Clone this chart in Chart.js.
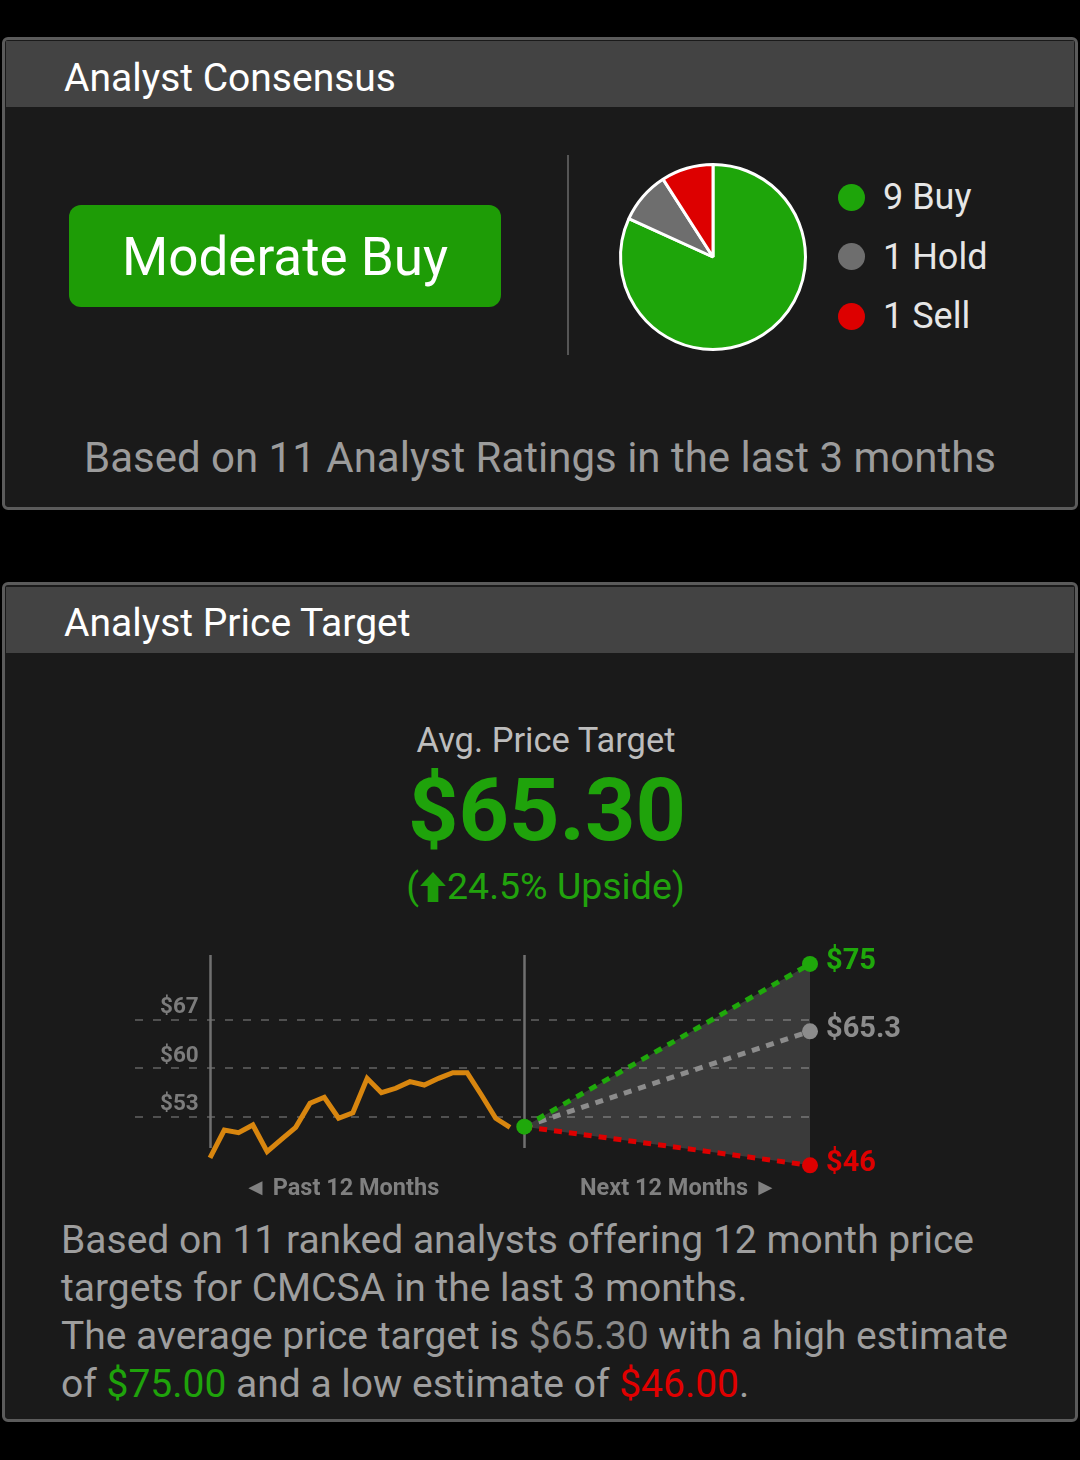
<!DOCTYPE html>
<html>
<head>
<meta charset="utf-8">
<script src="https://cdn.jsdelivr.net/npm/chart.js@4.4.1/dist/chart.umd.min.js"></script>
<style>
  html, body { margin:0; padding:0; background:#000; }
  body { width:1080px; height:1460px; position:relative; overflow:hidden; font-family: Roboto, "Noto Sans", sans-serif; }
  .abs { position:absolute; }
  .panel { box-sizing:border-box; border:3px solid #5b5b5b; border-radius:6px; background:#1a1a1a; }
  .hdr { background:#434343; }
  .title { color:#fff; font-size:39px; line-height:46px; white-space:nowrap; }
  .ctr { text-align:center; white-space:nowrap; }
  .legrow { display:flex; align-items:center; height:40px; white-space:nowrap; }
  .dot { width:27px; height:27px; border-radius:50%; margin-right:18px; }
  .legtxt { color:#e6e6e6; font-size:36px; }
  .para { color:#9e9e9e; font-size:39px; line-height:48px; white-space:nowrap; }
</style>
</head>
<body>
<!-- Panel 1 -->
<div class="abs panel" style="left:2px;top:37px;width:1076px;height:473px;"></div>
<div class="abs hdr" style="left:6px;top:41px;width:1068px;height:66px;"></div>
<div class="abs title" style="left:64px;top:55px;">Analyst Consensus</div>
<div class="abs" style="left:69px;top:205px;width:432px;height:102px;border-radius:12px;background:#1e9c06;"></div>
<div class="abs ctr" style="left:69px;top:225px;width:432px;color:#fff;font-size:53px;line-height:64px;">Moderate Buy</div>
<div class="abs" style="left:567px;top:155px;width:2px;height:200px;background:#555;"></div>
<canvas id="pie" class="abs" width="194" height="194" style="left:616px;top:160px;width:194px;height:194px;"></canvas>
<div id="legend"></div>
<div class="abs ctr" style="left:0;top:432px;width:1080px;color:#9c9c9c;font-size:42px;line-height:52px;">Based on 11 Analyst Ratings in the last 3 months</div>

<!-- Panel 2 -->
<div class="abs panel" style="left:2px;top:582px;width:1076px;height:840px;"></div>
<div class="abs hdr" style="left:6px;top:587px;width:1068px;height:66px;"></div>
<div class="abs title" style="left:64px;top:600px;">Analyst Price Target</div>
<div class="abs ctr" style="left:0;top:719px;width:1092px;color:#bdbdbd;font-size:34.5px;line-height:42px;">Avg. Price Target</div>
<div class="abs ctr" style="left:0;top:757px;width:1094px;color:#1fa30b;font-size:88px;line-height:106px;font-weight:bold;">$65.30</div>
<div class="abs ctr" style="left:0;top:863px;width:1091px;color:#21a30d;font-size:37.5px;line-height:46px;">(<svg width="26" height="30" viewBox="0 0 24 28" style="vertical-align:-3px;margin:0 1px;"><polygon points="12,0 24,13 17,13 17,28 7,28 7,13 0,13" fill="#1d9a0a"/></svg>24.5% Upside)</div>
<canvas id="line" class="abs" width="1080" height="275" style="left:0;top:930px;width:1080px;height:275px;"></canvas>
<div class="abs para" style="left:61px;top:1216px;">Based on 11 ranked analysts offering 12 month price<br>targets for CMCSA in the last 3 months.<br>The average price target is <span style="color:#8a8a8a">$65.30</span> with a high estimate<br>of <span style="color:#1fa30b">$75.00</span> and a low estimate of <span style="color:#e00000">$46.00</span>.</div>

<script>
// ---------- Data ----------
const ratingNames  = ['Buy', 'Hold', 'Sell'];
const ratingCounts = [9, 1, 1];
const ratingColors = ['#1ea50a', '#6e6e6e', '#dd0000'];

const pastPrices = [47.06, 51.09, 50.70, 51.81, 47.97, 49.75, 51.48, 54.94, 55.80, 52.78, 53.58,
                    58.53, 56.46, 57.10, 58.05, 57.57, 58.53, 59.34, 59.34, 56.13, 52.78, 51.48];
const currentPrice = 51.57;
const targetNames  = ['High', 'Average', 'Low'];
const targetValues = [75, 65.3, 46];
const targetLabels = ['$75', '$65.3', '$46'];
const targetColors = ['#1fa80b', '#8c8c8c', '#dd0000'];
const yTickValues  = [53, 60, 67];
const yTickLabels  = ['$53', '$60', '$67'];
const periodLabels = ['\u25C4 Past 12 Months', 'Next 12 Months \u25BA'];
const periodLabelAt = [9.2, 32.8];
const currentIndex = 22;   // step of the current price on the time axis
const targetIndex  = 42;   // step 12 months ahead

// ---------- Legend (HTML) ----------
const leg = document.getElementById('legend');
ratingNames.forEach((n, i) => {
  const row = document.createElement('div');
  row.className = 'abs legrow';
  row.style.left = '838px';
  row.style.top = (177 + i * 59.5) + 'px';
  row.innerHTML = '<div class="dot" style="background:' + ratingColors[i] + '"></div><span class="legtxt">' + ratingCounts[i] + ' ' + n + '</span>';
  leg.appendChild(row);
});

// ---------- Pie ----------
new Chart(document.getElementById('pie'), {
  type: 'pie',
  data: {
    labels: ratingNames,
    datasets: [{ data: ratingCounts, backgroundColor: ratingColors, borderColor: '#ffffff', borderWidth: 3 }]
  },
  options: {
    responsive: false, animation: false, events: [],
    layout: { padding: 3 },
    plugins: { legend: { display: false }, tooltip: { enabled: false } }
  }
});

// ---------- Line chart ----------
const pastData = pastPrices.map((v, i) => ({ x: i, y: v }));
const targetSets = targetValues.map((v, k) => ({
  label: targetNames[k],
  data: [{ x: currentIndex, y: currentPrice }, { x: targetIndex, y: v }],
  borderColor: targetColors[k],
  borderWidth: 5,
  borderDash: [8, 7],
  pointRadius: k === 0 ? [8, 8] : [0, 8],
  pointBackgroundColor: targetColors[k],
  pointBorderWidth: 0,
  fill: k === 0 ? { target: 3 } : false,
  backgroundColor: 'rgba(255,255,255,0.14)',
  clip: false
}));

const decorations = {
  id: 'decorations',
  beforeDatasetsDraw(chart) {
    const { ctx, chartArea, scales: { x } } = chart;
    ctx.save();
    ctx.strokeStyle = '#707070';
    ctx.lineWidth = 2.5;
    [0, currentIndex].forEach(v => {
      const px = Math.round(x.getPixelForValue(v)) + 0.5;
      ctx.beginPath();
      ctx.moveTo(px, chartArea.top);
      ctx.lineTo(px, chartArea.bottom - 27);
      ctx.stroke();
    });
    ctx.restore();
  },
  afterDatasetsDraw(chart) {
    const { ctx } = chart;
    ctx.save();
    ctx.font = 'bold 29px Roboto';
    ctx.textAlign = 'left';
    ctx.textBaseline = 'middle';
    for (let k = 0; k < targetValues.length; k++) {
      const meta = chart.getDatasetMeta(k + 1);
      const pt = meta.data[1];
      ctx.fillStyle = targetColors[k];
      ctx.fillText(targetLabels[k], pt.x + 16, pt.y - 2);
    }
    ctx.restore();
  }
};

function zeroPad(s) { s.paddingTop = 0; s.paddingBottom = 0; s.paddingLeft = 0; s.paddingRight = 0; }

new Chart(document.getElementById('line'), {
  type: 'line',
  data: {
    datasets: [
      { label: 'Price', data: pastData, borderColor: '#d8860f', borderWidth: 5, pointRadius: 0, fill: false, tension: 0, clip: false },
      ...targetSets
    ]
  },
  options: {
    responsive: false, animation: false, events: [],
    layout: { autoPadding: false, padding: { left: 135, right: 270, top: 25, bottom: 0 } },
    plugins: { legend: { display: false }, tooltip: { enabled: false }, filler: { drawTime: 'beforeDatasetsDraw' } },
    scales: {
      x: {
        type: 'linear', min: -5.25, max: targetIndex,
        afterBuildTicks: s => { s.ticks = periodLabelAt.map(v => ({ value: v })); },
        afterFit: s => { s.height = 30; zeroPad(s); },
        grid: { display: false, drawTicks: false },
        border: { display: false },
        ticks: {
          autoSkip: false, maxRotation: 0, padding: 0,
          color: '#808080', font: { family: 'Roboto', size: 23.5, weight: 'bold' },
          callback: (v, i) => periodLabels[i]
        }
      },
      y: {
        type: 'linear', min: 44.61, max: 76.29,
        afterBuildTicks: s => { s.ticks = yTickValues.map(v => ({ value: v })); },
        afterFit: s => { s.width = 0; zeroPad(s); },
        grid: { color: '#505050', lineWidth: 2, drawTicks: false },
        border: { display: false, dash: [8, 10] },
        ticks: {
          mirror: true, padding: 25, labelOffset: -12,
          color: '#7c7c7c', font: { family: 'Roboto', size: 22.5, weight: 'bold' },
          callback: (v, i) => yTickLabels[i]
        }
      }
    }
  },
  plugins: [decorations]
});
</script>
</body>
</html>
